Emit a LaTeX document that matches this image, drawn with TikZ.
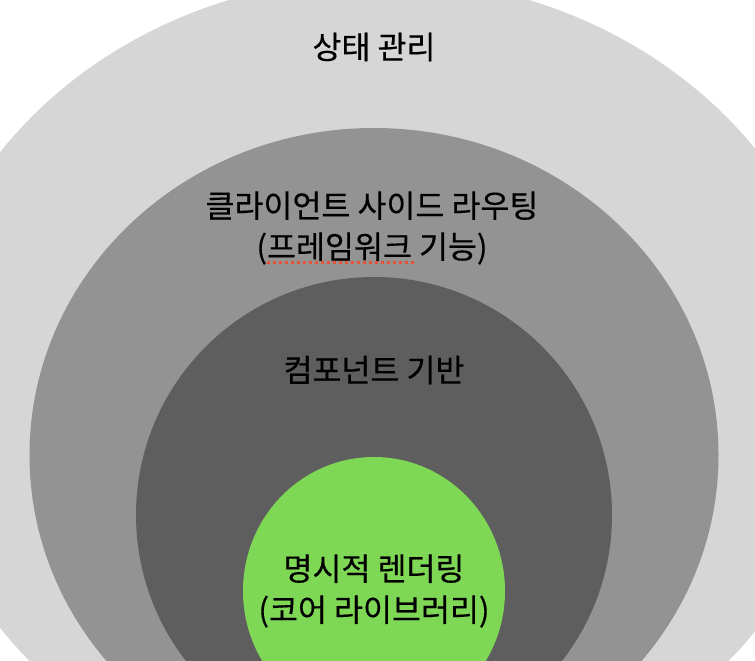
\documentclass[tikz,border=0pt]{standalone}
\usepackage{fontspec}
\newfontfamily\kr[FakeBold=0.4]{Noto Sans CJK KR}
\definecolor{outerc}{HTML}{D6D6D6}
\definecolor{midc}{HTML}{939393}
\definecolor{darkc}{HTML}{5E5E5E}
\definecolor{greenc}{HTML}{7FD756}
\definecolor{squig}{HTML}{E5533C}
\begin{document}
\begin{tikzpicture}[x=1pt,y=-1pt,
  lbl/.style={font=\kr\fontsize{31.5}{41}\selectfont, align=center, text=black, inner sep=0pt}]
\useasboundingbox (0,0) rectangle (755,661);
\begin{scope}
\clip (0,0) rectangle (755,661);
\fill[outerc] (379,390) ellipse [x radius=464pt, y radius=412pt];
\fill[midc] (374,455) ellipse [x radius=344.5pt, y radius=327pt];
\fill[darkc] (374,515) circle [radius=238pt];
\fill[greenc] (374,591) ellipse [x radius=131pt, y radius=134pt];
\end{scope}
\node[lbl] (state) at (374,47) {상태 관리};
\node[lbl] (routing) at (372,228) {클라이언트 사이드 라우팅\\(프레임워크 기능)};
\node[lbl] (comp) at (374,370) {컴포넌트 기반};
\node[lbl] (render) at (374,591) {명시적 렌더링\\(코어 라이브러리)};
\coordinate (sqA) at (267,262.5);
\coordinate (sqB) at (414,262.5);
\draw[squig, line width=3pt, dash pattern=on 3.2pt off 2.8pt] (sqA) -- (sqB);
\end{tikzpicture}
\end{document}
